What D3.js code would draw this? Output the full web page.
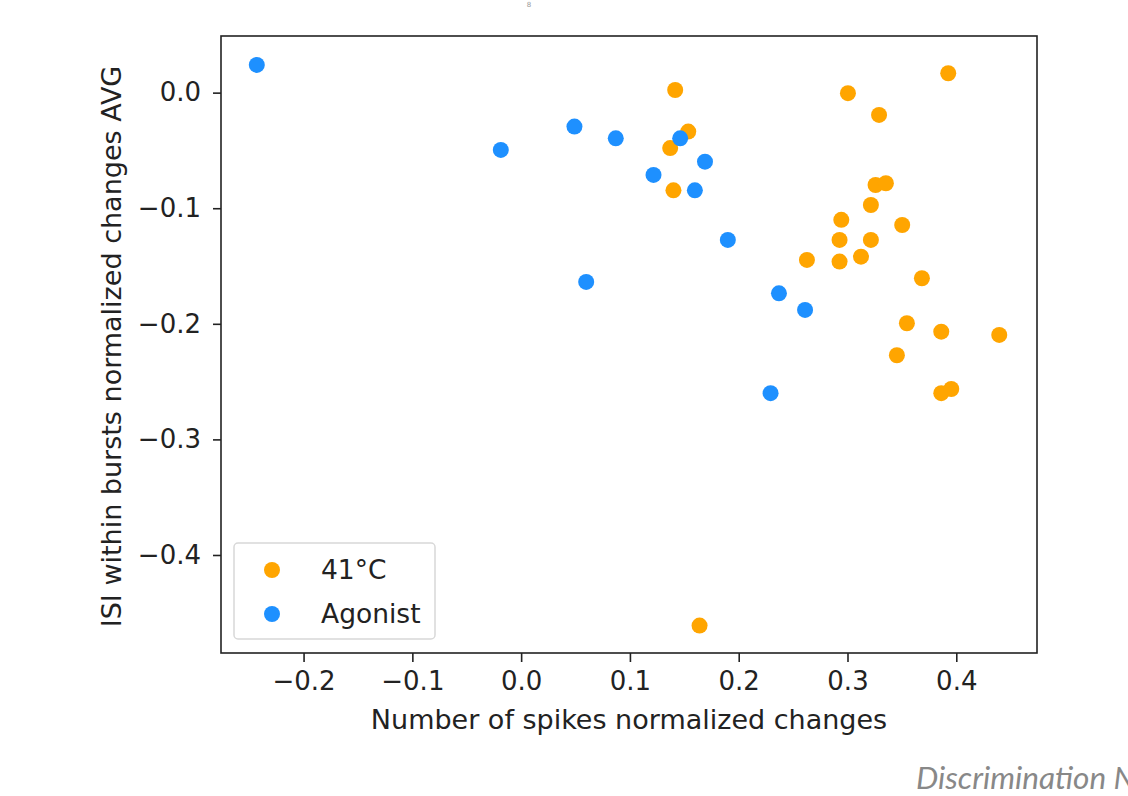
<!DOCTYPE html>
<html>
<head>
<meta charset="utf-8">
<script src="https://cdn.jsdelivr.net/npm/d3@7"></script>
<style>
  body { margin: 0; background: #fff; overflow: hidden; }
  svg text { font-family: "DejaVu Sans", sans-serif; fill: #222; }
</style>
</head>
<body>
<div id="chart"></div>
<script>
// 41°C group
var hotX = [0.1416, 0.1536, 0.137, 0.140, 0.3004, 0.329, 0.3926, 0.3258, 0.3353, 0.3215,
            0.2943, 0.3503, 0.2927, 0.3215, 0.2627, 0.2927, 0.3124, 0.3684, 0.3546, 0.3862,
            0.4395, 0.3454, 0.3862, 0.3954, 0.164];
var hotY = [0.0023, -0.0337, -0.048, -0.0845, -0.0005, -0.0193, 0.0168, -0.0799, -0.0784, -0.0972,
            -0.110, -0.1145, -0.1274, -0.1274, -0.1447, -0.1462, -0.1419, -0.1606, -0.1995, -0.2068,
            -0.2096, -0.2272, -0.260, -0.2564, -0.4611];
// Agonist group
var agoX = [-0.243, -0.0187, 0.049, 0.087, 0.0598, 0.1462, 0.169, 0.1217, 0.1597, 0.190,
            0.237, 0.261, 0.2293];
var agoY = [0.024, -0.0496, -0.0294, -0.0395, -0.1638, -0.0395, -0.0597, -0.0712, -0.0845, -0.1274,
            -0.1736, -0.188, -0.260];

var xTicks = [-0.2, -0.1, 0.0, 0.1, 0.2, 0.3, 0.4];
var yTicks = [0.0, -0.1, -0.2, -0.3, -0.4];
var seriesNames = ["41\u00b0C", "Agonist"];
var seriesColors = ["#FFA500", "#1E90FF"];

var W = 1128, H = 796;
var margin = {top: 36, right: 91, bottom: 143, left: 221};
var width = W - margin.left - margin.right,
    height = H - margin.top - margin.bottom;

var svg = d3.select("#chart").append("svg")
    .attr("width", W)
    .attr("height", H);

var g = svg.append("g")
    .attr("transform", "translate(" + margin.left + "," + margin.top + ")");

var x = d3.scaleLinear().domain([-0.2759, 0.4742]).range([0, width]);
var y = d3.scaleLinear().domain([-0.4848, 0.049]).range([height, 0]);

var fmt = function(d){ return d3.format(".1f")(d).replace("-", "\u2212"); };

var xAxis = d3.axisBottom(x).tickValues(xTicks).tickFormat(fmt).tickSize(9).tickPadding(10);
var yAxis = d3.axisLeft(y).tickValues(yTicks).tickFormat(fmt).tickSize(8).tickPadding(12);

var gx = g.append("g")
    .attr("transform", "translate(0," + height + ")")
    .call(xAxis);
var gy = g.append("g").call(yAxis);

[gx, gy].forEach(function(a){
  a.select(".domain").remove();
  a.selectAll("line").attr("stroke", "#222").attr("stroke-width", 1.6);
  a.selectAll("text").style("font-size", "26px").attr("fill", "#222");
});

// points
function plot(xs, ys, color){
  g.selectAll(null)
    .data(xs.map(function(v, i){ return [v, ys[i]]; }))
    .enter().append("circle")
      .attr("cx", function(d){ return x(d[0]); })
      .attr("cy", function(d){ return y(d[1]); })
      .attr("r", 8)
      .attr("fill", color);
}
plot(hotX, hotY, seriesColors[0]);
plot(agoX, agoY, seriesColors[1]);

// frame
g.append("rect")
    .attr("width", width).attr("height", height)
    .attr("fill", "none").attr("stroke", "#222").attr("stroke-width", 1.6);

// legend
var lg = g.append("g").attr("transform", "translate(13," + (height - 110) + ")");
lg.append("rect")
    .attr("width", 201).attr("height", 96)
    .attr("rx", 4)
    .attr("fill", "#fff").attr("fill-opacity", 0.8)
    .attr("stroke", "#d8d8d8").attr("stroke-width", 1.5);
seriesNames.forEach(function(n, i){
  lg.append("circle")
    .attr("cx", 38).attr("cy", 27 + i * 44)
    .attr("r", 8).attr("fill", seriesColors[i]);
  lg.append("text")
    .attr("x", 87).attr("y", 27 + i * 44)
    .attr("dy", "0.35em")
    .style("font-size", "26.5px")
    .text(n);
});

// axis labels
svg.append("text")
    .attr("x", margin.left + width / 2)
    .attr("y", 729)
    .attr("text-anchor", "middle")
    .style("font-size", "27px")
    .text("Number of spikes normalized changes");

svg.append("text")
    .attr("transform", "translate(121," + (margin.top + height / 2 + 2) + ") rotate(-90)")
    .attr("text-anchor", "middle")
    .style("font-size", "27px")
    .text("ISI within bursts normalized changes AVG");

// stray page fragments
svg.append("text")
    .attr("x", 529).attr("y", 7)
    .attr("text-anchor", "middle")
    .style("font-size", "7px")
    .style("fill", "#999")
    .text("8");

svg.append("text")
    .attr("x", 916).attr("y", 789)
    .style("font-family", "Lato, sans-serif")
    .style("font-style", "italic")
    .style("font-size", "31.5px")
    .style("fill", "#888")
    .text("Discrimination N");
</script>
</body>
</html>
